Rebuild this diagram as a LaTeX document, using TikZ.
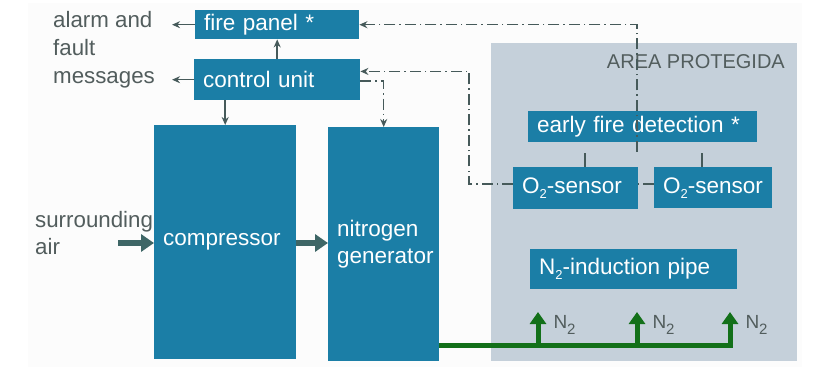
\documentclass[tikz,border=0pt]{standalone}
\usepackage{fontspec}
\setmainfont{Liberation Sans}
\usepackage{tikz}
\usetikzlibrary{arrows.meta,calc}
\usepackage{xcolor}
\definecolor{BoxBlue}{HTML}{1B7EA6}
\definecolor{AreaGray}{HTML}{C5D0DA}
\definecolor{SigGray}{HTML}{465A5A}
\definecolor{FatGray}{HTML}{3E6666}
\definecolor{TxtGray}{HTML}{525D5D}
\definecolor{PipeGreen}{HTML}{137019}
\definecolor{BackWhite}{HTML}{FCFCFC}
% lowered digit: shift, size, digit
\newcommand\lowdigit[3]{\raisebox{#1}{\fontsize{#2}{#2}\selectfont #3}}
\tikzset{
  unitbox/.style 2 args={fill=BoxBlue, text=white, anchor=north west, align=left,
    inner xsep=9pt, inner ysep=0pt, text width=#1, minimum height=#2,
    font=\fontsize{22.5}{27}\selectfont},
  areabox/.style={fill=AreaGray, anchor=north west, inner sep=0pt,
    minimum width=306pt, minimum height=318pt},
  sidetext/.style={text=TxtGray, align=left, inner sep=0pt,
    font=\fontsize{22.3}{28}\selectfont},
  thinarr/.style={-{Stealth[length=8pt,width=7pt]}, line width=1.5pt, color=SigGray},
  tapline/.style={line width=1.5pt, color=SigGray},
  sigline/.style={line width=1.5pt, color=SigGray,
    dash pattern=on 11pt off 4pt on 1.5pt off 4pt},
  fatarr/.style={-{Triangle[length=13pt,width=17pt]}, line width=6pt, color=FatGray},
  gasline/.style={line width=5pt, color=PipeGreen},
  gasarr/.style={gasline, -{Triangle[length=12pt,width=16pt]}},
}

\begin{document}
\begin{tikzpicture}[x=1pt,y=-1pt]
  \useasboundingbox (0,0) rectangle (826,382);
  \fill[BackWhite] (28,3) rectangle (802,367);

  \node[unitbox={146pt}{29pt}] (panel) at (195,10) {fire panel *};
  \node[unitbox={148pt}{41pt}] (ctrl) at (194,59) {control unit};
  \node[unitbox={124pt}{234pt}] (comp) at (154,125) {compressor};
  \node[unitbox={93pt}{234pt}] (gen) at (328,127) {nitrogen\\generator};

  \node[sidetext, anchor=west] (msg) at (53,50) {alarm and\\fault\\messages};
  \node[sidetext, anchor=west, font=\fontsize{22.3}{27}\selectfont]
    (air) at (35,233) {surrounding\\air};

  \node[areabox] (area) at (491,43) {};
  \node[anchor=east, inner sep=0pt, text=TxtGray, font=\fontsize{20}{24}\selectfont]
    (areaTitle) at (785,62) {AREA PROTEGIDA};
  \node[unitbox={211pt}{31pt}] (det) at (528,111) {early fire detection *};
  \node[unitbox={107pt}{42pt}] (sensA) at (513,167) {\mbox{O\lowdigit{-5pt}{13}{2}-sensor}};
  \node[unitbox={100pt}{41pt}] (sensB) at (654,167) {\mbox{O\lowdigit{-5pt}{13}{2}-sensor}};
  \node[unitbox={189pt}{40pt}] (pipe) at (530,249) {N\lowdigit{-5pt}{13}{2}-induction pipe};

  \draw[thinarr, shorten >=17pt] (panel.west) -- (panel.west -| msg.east);
  \draw[thinarr, shorten >=17pt] (ctrl.west) -- (ctrl.west -| msg.east);
  \draw[thinarr] (ctrl) -- (panel);
  \draw[thinarr] (ctrl.south -| comp.north) -- (comp.north);

  \coordinate (airIn) at (118,243);
  \draw[fatarr] (airIn) -- (comp.west |- airIn);
  \draw[fatarr] (comp.east |- airIn) -- (gen.west |- airIn);

  \draw[tapline, shorten <=11pt] (det.south -| 585,0) -- (sensA.north -| 585,0);
  \draw[tapline, shorten <=11pt] (det.south -| 702,0) -- (sensB.north -| 702,0);

  \coordinate (fdTap) at (637,152);
  \coordinate (o2Tap) at (469,184);
  \draw[sigline, -{Stealth[length=8pt,width=7pt]}] (fdTap) |- (panel.east);
  \draw[sigline, -{Stealth[length=8pt,width=7pt]}] (sensA.west |- o2Tap) -- (o2Tap)
    |- ($(ctrl.north east)!0.3!(ctrl.south east)$);
  \draw[sigline] (sensB.west |- o2Tap) -- (sensA.east |- o2Tap);
  \draw[sigline, -{Stealth[length=8pt,width=7pt]}]
    ($(ctrl.north east)!0.53!(ctrl.south east)$) -| (gen.north);

  \coordinate (pipeEnd) at (733,345);
  \draw[gasline] (gen.east |- pipeEnd) -- (pipeEnd);
  \foreach \x in {538,637,730}
    \draw[gasarr] (\x,345) -- (\x,312)
      node[pos=0.6, right=12pt, inner sep=1pt, text=TxtGray,
        font=\fontsize{19}{22}\selectfont] {N\lowdigit{-6pt}{15}{2}};
\end{tikzpicture}
\end{document}
